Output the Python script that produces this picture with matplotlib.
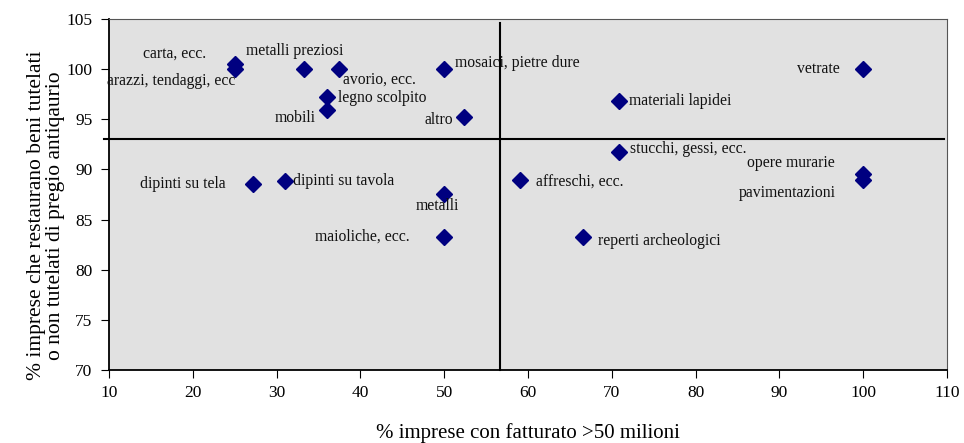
import matplotlib.pyplot as plt

plt.rcParams['font.family'] = ['Liberation Serif', 'DejaVu Serif']

# data
labels = ["carta, ecc.", "arazzi, tendaggi, ecc", "metalli preziosi", "avorio, ecc.",
          "mosaici, pietre dure", "legno scolpito", "mobili", "altro", "vetrate",
          "materiali lapidei", "stucchi, gessi, ecc.", "opere murarie", "pavimentazioni",
          "affreschi, ecc.", "reperti archeologici", "dipinti su tela", "dipinti su tavola",
          "metalli", "maioliche, ecc."]
fatturato = [25.0, 25.0, 33.3, 37.5, 50.0, 36.0, 36.0, 52.4, 100.0,
             70.9, 70.9, 100.0, 100.0, 59.0, 66.6, 27.2, 31.0, 50.0, 50.0]
tutelati = [100.5, 100.0, 100.0, 100.0, 100.0, 97.2, 95.9, 95.2, 100.0,
            96.8, 91.7, 89.5, 88.9, 88.9, 83.3, 88.5, 88.8, 87.5, 83.3]
media_x = 56.7
media_y = 93.0

# label placement (offset in pixels, alignment)
offs = [(-60, 10, 'center'), (1, -12, 'right'), (-10, 18, 'center'), (4, -10, 'left'),
        (11, 6, 'left'), (11, -1, 'left'), (-11, -8, 'right'), (-11, -3, 'right'),
        (-23, 0, 'right'), (10, 0, 'left'), (11, 3, 'left'), (-28, 11, 'right'),
        (-27, -13, 'right'), (16, -1, 'left'), (15, -4, 'left'), (-28, 0, 'right'),
        (8, 0, 'left'), (-7, -12, 'center'), (-35, 0, 'right')]

fig = plt.figure(figsize=(9.64, 4.43), dpi=100)
ax = fig.add_axes([0.1131, 0.1648, 0.8693, 0.7923])
ax.set_facecolor('#e1e1e1')

ax.plot(fatturato, tutelati, 'D', color='#000080', ms=8, zorder=3, clip_on=False)
for lab, x, y, (dx, dy, ha) in zip(labels, fatturato, tutelati, offs):
    ax.annotate(lab, (x, y), xytext=(dx, dy), textcoords='offset pixels',
                ha=ha, va='center', fontsize=11.3, color='#111111', annotation_clip=False)

ax.plot([media_x, media_x], [70, 104.6], color='black', lw=1.5, clip_on=False)
ax.plot([9.4, 109.6], [media_y, media_y], color='black', lw=1.5, clip_on=False)

ax.set_xlim(10, 110)
ax.set_ylim(70, 105)
ax.set_xticks(range(10, 111, 10))
ax.set_yticks(range(70, 106, 5))
ax.tick_params(direction='out', length=6, labelsize=12.5, pad=6)
ax.tick_params(axis='x', pad=5)
for s in ['top', 'right']:
    ax.spines[s].set_color('#555555')
    ax.spines[s].set_linewidth(0.8)
for s in ['left', 'bottom']:
    ax.spines[s].set_linewidth(1.3)

ax.set_xlabel("% imprese con fatturato >50 milioni", fontsize=15, labelpad=16)
ax.set_ylabel("% imprese che restaurano beni tutelati\no non tutelati di pregio antiqaurio",
              fontsize=15.5, linespacing=1.0)
ax.yaxis.set_label_coords(-0.053, 0.44)

fig.savefig("out.png", dpi=100)
